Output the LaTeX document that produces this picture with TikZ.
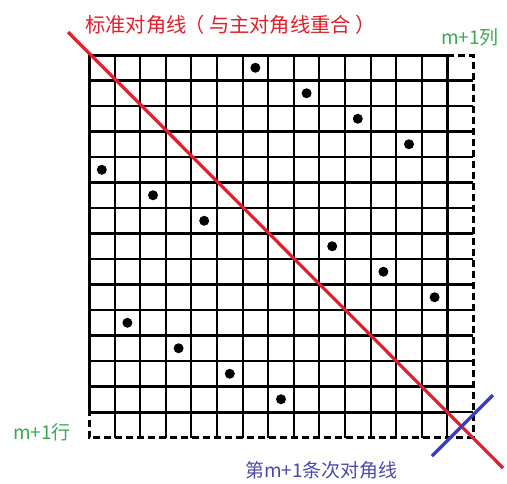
\documentclass[tikz,border=0pt]{standalone}
\usepackage{fontspec}
\newfontfamily\cjkfont{Noto Sans CJK SC}
\definecolor{diagred}{HTML}{E0202C}
\definecolor{diaggreen}{HTML}{3AA858}
\definecolor{diagbluetext}{HTML}{4A4AAC}
\definecolor{diagblueline}{HTML}{3B3BC8}
\begin{document}
\begin{tikzpicture}[x=1pt,y=-1pt,
  gridline/.style={line width=2.1pt,black},
  border/.style={line width=3pt,black},
  dashborder/.style={line width=3pt,black,dash pattern=on 7pt off 4pt},
  dot/.style={circle,fill=black,inner sep=0pt,minimum size=10pt},
  lbl/.style={inner sep=0pt,font=\cjkfont}]
\useasboundingbox (0,0) rectangle (507,483);
\def\gx{89}\def\gy{55}\def\dx{25.6}\def\dy{25.5}
% internal grid lines
\foreach \i in {1,...,14}{
  \draw[gridline] ({\gx+\i*\dx},\gy) -- ({\gx+\i*\dx},{\gy+15*\dy});
  \draw[gridline] (\gx,{\gy+\i*\dy}) -- ({\gx+15*\dx},{\gy+\i*\dy});
}
% main border
\draw[border] (\gx,\gy) rectangle ({\gx+14*\dx},{\gy+14*\dy});
% dashed extra column and row
\draw[dashborder] ({\gx+14*\dx},\gy) -- ({\gx+15*\dx},\gy) -- ({\gx+15*\dx},{\gy+15*\dy}) -- (\gx,{\gy+15*\dy}) -- (\gx,{\gy+14*\dy});
% dots (column,row)
\foreach \c/\r [count=\k] in {6/0,8/1,10/2,12/3,0/4,2/5,4/6,9/7,11/8,13/9,1/10,3/11,5/12,7/13}{
  \node[dot] (d\k) at ({\gx+(\c+0.5)*\dx},{\gy+(\r+0.5)*\dy}) {};
}
% diagonals
\coordinate (rs) at (68,32);
\coordinate (re) at (503,468);
\coordinate (bs) at (432,456);
\coordinate (be) at (493,395);
\draw[diagred,line width=3.2pt] (rs) -- (re);
\draw[diagblueline,line width=3.2pt] (bs) -- (be);
% labels
\node[lbl,anchor=west,text=diagred,font=\cjkfont\fontsize{20.3pt}{22pt}\selectfont] (t1) at (85,25) {标准对角线\kern-0.1em（\kern0.2em与主对角线重合\kern0.2em）};
\node[lbl,anchor=west,text=diaggreen,font=\cjkfont\fontsize{19pt}{21pt}\selectfont] (t2) at (441,37) {m+1列};
\node[lbl,anchor=west,text=diaggreen,font=\cjkfont\fontsize{19pt}{21pt}\selectfont] (t3) at (13,432) {m+1行};
\node[lbl,anchor=west,text=diagbluetext,font=\cjkfont\fontsize{19pt}{21pt}\selectfont] (t4) at (245,470) {第m+1条次对角线};
\end{tikzpicture}
\end{document}
